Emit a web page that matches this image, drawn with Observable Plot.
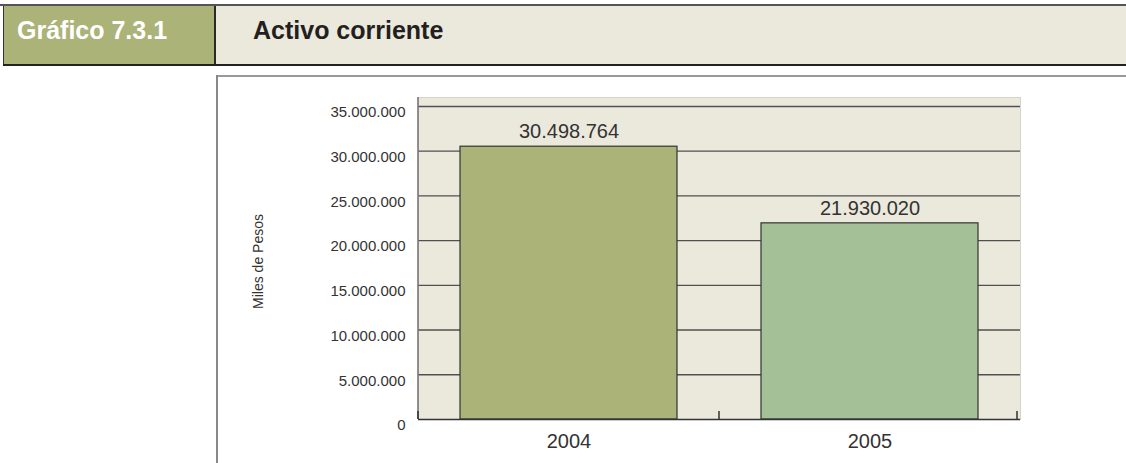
<!DOCTYPE html>
<html>
<head>
<meta charset="utf-8">
<script src="https://cdn.jsdelivr.net/npm/d3@7"></script>
<script src="https://cdn.jsdelivr.net/npm/@observablehq/plot@0.6"></script>
<style>
html, body { margin: 0; padding: 0; background: #fff; width: 1126px; height: 463px; overflow: hidden;
  font-family: "Liberation Sans", Arial, sans-serif; }
.abs { position: absolute; }
#topline { left: 0; top: 4px; width: 1126px; height: 2px; background: #555; }
#band { left: 216px; top: 6px; width: 910px; height: 58px; background: #ebe8dc; }
#numbox { left: 3px; top: 6px; width: 211px; height: 58px; background: #acb379; border-left: 1px solid #333; }
#divider { left: 214px; top: 6px; width: 2px; height: 59px; background: #2a2a2a; }
#botline { left: 3px; top: 64px; width: 1123px; height: 2px; background: #222; }
#num { left: 17px; top: 18px; font-size: 25px; line-height: 25px; font-weight: bold; color: #fff; white-space: nowrap; }
#title { left: 253px; top: 18px; font-size: 25px; line-height: 25px; font-weight: bold; color: #231f20; white-space: nowrap; }
#frameTop { left: 216px; top: 75px; width: 910px; height: 2px; background: #999; z-index: 5; }
#frameLeft { left: 216px; top: 75px; width: 2px; height: 388px; background: #888; z-index: 5; }
#chart { left: 0; top: 75px; width: 1126px; height: 388px; }
</style>
</head>
<body>
<div class="abs" id="topline"></div>
<div class="abs" id="band"></div>
<div class="abs" id="numbox"></div>
<div class="abs" id="divider"></div>
<div class="abs" id="botline"></div>
<div class="abs" id="num">Gráfico 7.3.1</div>
<div class="abs" id="title">Activo corriente</div>
<div class="abs" id="chart"></div>
<div class="abs" id="frameTop"></div>
<div class="abs" id="frameLeft"></div>
<script>
const years = ["2004", "2005"];
const values = [30498764, 21930020];
const barColors = ["#acb379", "#a4c096"];
const yTicks = [0, 5000000, 10000000, 15000000, 20000000, 25000000, 30000000, 35000000];
const gridTicks = yTicks.slice(1);
const yLabel = "Miles de Pesos";

const data = years.map((year, i) => ({year, value: values[i], color: barColors[i]}));
const fmt = d3.formatLocale({decimal: ",", thousands: ".", grouping: [3], currency: ["", ""]}).format(",d");

const axisLines = (index, scales, vals, dims) => {
  const x = scales.x;
  const left = dims.marginLeft, right = dims.width - dims.marginRight;
  const top = dims.marginTop, bottom = dims.height - dims.marginBottom;
  const xs = years.map(d => x(d));
  let bw = typeof x.bandwidth === "function" ? x.bandwidth() : x.bandwidth;
  if (typeof bw !== "number" || isNaN(bw)) bw = (xs[1] - xs[0]) * 0.72;
  const bounds = [left, (xs[0] + bw + xs[1]) / 2, right - 3];
  const g = d3.create("svg:g");
  g.append("line").attr("x1", left).attr("x2", left).attr("y1", top).attr("y2", bottom)
    .attr("stroke", "#777").attr("stroke-width", 1.6);
  for (const b of bounds) {
    g.append("line").attr("x1", b).attr("x2", b).attr("y1", bottom - 8).attr("y2", bottom)
      .attr("stroke", "#333").attr("stroke-width", 1.5);
  }
  return g.node();
};

const chart = Plot.plot({
  width: 1126, height: 388,
  marginLeft: 418, marginRight: 106, marginTop: 22, marginBottom: 44,
  style: {fontFamily: "'Liberation Sans', Arial, sans-serif", background: "transparent", color: "#333", overflow: "visible"},
  x: {domain: years, paddingInner: 0.28, paddingOuter: 0.14, axis: null},
  y: {domain: [0, 36000000], axis: null},
  color: {type: "identity"},
  marks: [
    Plot.frame({fill: "#ebe8dc", stroke: "#d6d3c8"}),
    Plot.ruleY(gridTicks, {stroke: "#505050", strokeWidth: 1.4}),
    Plot.barY(data, {x: "year", y: "value", fill: "color", stroke: "#333", strokeWidth: 1.2}),
    Plot.ruleY([0], {stroke: "#333", strokeWidth: 1.6}),
    axisLines,
    Plot.axisY({ticks: yTicks, tickSize: 0, tickPadding: 13, tickFormat: fmt, fontSize: 15, dy: 6, label: null}),
    Plot.axisX({tickSize: 0, tickPadding: 14, fontSize: 20, label: null}),
    Plot.text(data, {x: "year", y: "value", text: d => fmt(d.value), dy: -15, fontSize: 20, fill: "#333"}),
    Plot.text([yLabel], {text: d => d, frameAnchor: "left", textAnchor: "middle", rotate: -90, dx: -160, dy: 3, fontSize: 14, fill: "#333"})
  ]
});
document.getElementById("chart").appendChild(chart);
</script>
</body>
</html>
